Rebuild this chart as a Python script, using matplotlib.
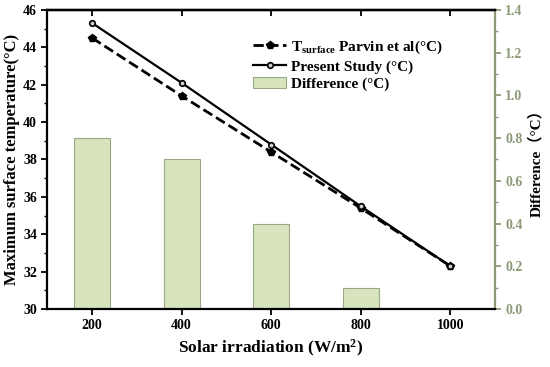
import numpy as np
import matplotlib.pyplot as plt

irradiation = [200, 400, 600, 800, 1000]
parvin = [44.5, 41.4, 38.4, 35.4, 32.3]
present = [45.3, 42.1, 38.8, 35.5, 32.3]
difference = [0.8, 0.7, 0.4, 0.1, 0.0]

plt.rcParams['font.family'] = ['Liberation Serif', 'Noto Sans CJK SC']
plt.rcParams['font.weight'] = 'bold'
plt.rcParams['mathtext.fontset'] = 'custom'
plt.rcParams['mathtext.rm'] = 'Liberation Serif:bold'
plt.rcParams['mathtext.it'] = 'Liberation Serif:bold'

green = '#8c9a78'

fig = plt.figure(figsize=(5.5, 3.67), dpi=100)
ax1 = fig.add_axes([0.086, 0.158, 0.814, 0.815])
ax2 = ax1.twinx()

# bars on right axis, lines on left axis drawn above
ax1.set_zorder(ax2.get_zorder() + 1)
ax1.patch.set_visible(False)

b = ax2.bar(irradiation, difference, width=80, color='#d7e4bd', edgecolor='#9aa888',
            lw=0.8, label='Difference (°C)')
l1, = ax1.plot(irradiation, parvin, '--', color='k', lw=2, marker='p', ms=6,
               label=r'T$_{\mathregular{surface}}$ Parvin et al(°C)')
l2, = ax1.plot(irradiation, present, '-', color='k', lw=1.6, marker='o', ms=4,
               mfc='#cccccc', mec='k', mew=1.2, label='Present Study (°C)')

ax1.set_xlim(100, 1100)
ax1.set_ylim(30, 46)
ax2.set_ylim(0, 1.4)
ax1.set_xticks(irradiation)
ax1.set_yticks(np.arange(30, 47, 2))
ax1.set_yticks(np.arange(30, 47, 1), minor=True)
ax2.set_yticks(np.arange(0, 1.41, 0.2))
ax2.set_yticks(np.arange(0, 1.41, 0.1), minor=True)
ax2.yaxis.set_major_formatter(plt.FormatStrFormatter('%.1f'))

# inward ticks on the top spine
top = ax1.secondary_xaxis('top')
top.set_xticks(irradiation)
top.tick_params(direction='in', width=1.3, length=4, labeltop=False)
top.spines['top'].set_linewidth(1.6)

for s in ['left', 'bottom', 'top']:
    ax1.spines[s].set_linewidth(1.6)
ax1.spines['right'].set_visible(False)
ax2.spines['left'].set_visible(False)
ax2.spines['bottom'].set_visible(False)
ax2.spines['top'].set_linewidth(1.6)
ax2.spines['right'].set_color(green)
ax2.spines['right'].set_linewidth(1.6)

ax1.tick_params(axis='both', which='major', direction='out', width=1.3, length=4, labelsize=10)
ax1.tick_params(axis='y', which='minor', direction='out', width=1, length=2)
ax1.tick_params(axis='x', which='minor', bottom=False)
ax2.tick_params(axis='y', which='major', direction='out', width=1.3, length=4,
                color=green, labelcolor=green, labelsize=10)
ax2.tick_params(axis='y', which='minor', direction='out', width=1, length=2, color=green)

ax1.set_xlabel('Solar irradiation (W/m$^{\\mathregular{2}}$)', fontsize=12.5, fontweight='bold')
ax1.set_ylabel('Maximum surface temperature(°C)', fontsize=12, fontweight='bold', labelpad=2)
ax2.set_ylabel('Difference（°C）', fontsize=11, fontweight='bold', labelpad=4)

ax1.legend([l1, l2, b], [l1.get_label(), l2.get_label(), b.get_label()],
           loc='upper left', bbox_to_anchor=(0.435, 0.94), frameon=False,
           fontsize=11, handlelength=2.2, handletextpad=0.3, labelspacing=0.25,
           borderpad=0.2)

fig.savefig('out.png', dpi=100)
